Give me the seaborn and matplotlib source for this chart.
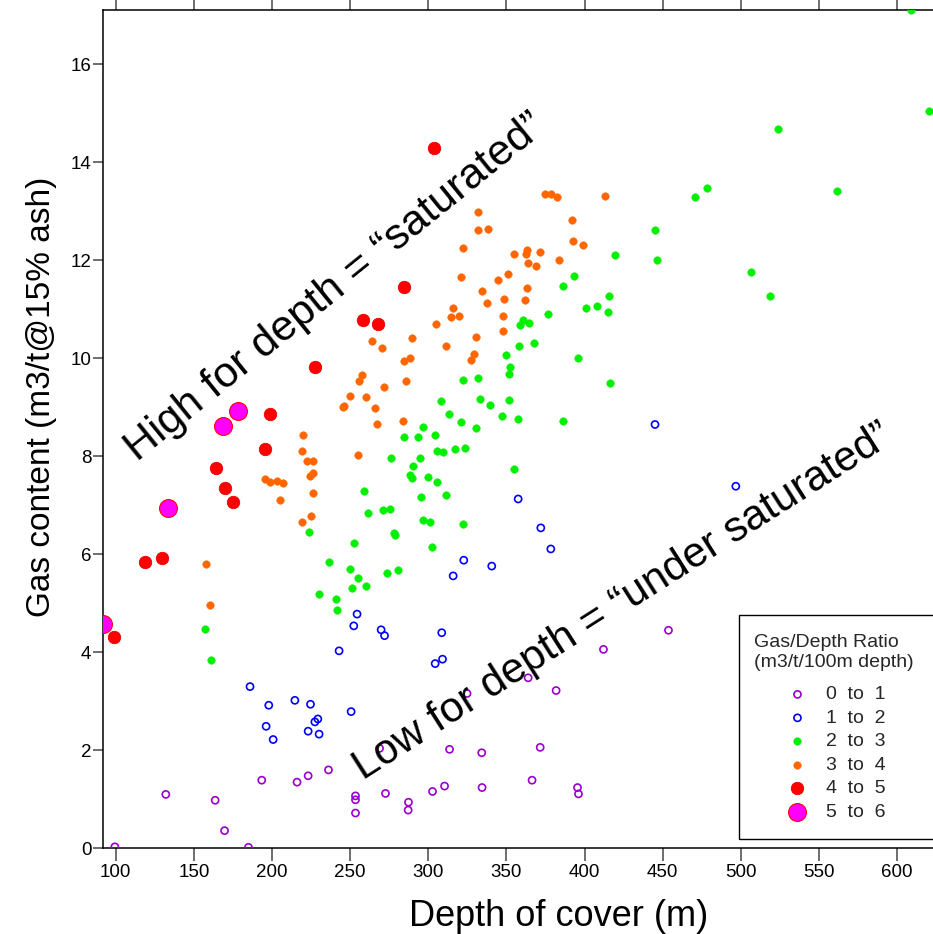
import matplotlib
matplotlib.use("Agg")
import matplotlib.pyplot as plt
import seaborn as sns
import pandas as pd
from matplotlib.patches import Rectangle

# ---------------- data (depth of cover m, gas content m3/t) ----------------
r01_depth = [193.4, 132.0, 163.6, 169.6, 99.4, 184.9, 216.0, 223.1, 236.1, 253.4, 253.4, 253.4,
             272.6, 287.3, 287.1, 302.7, 310.4, 268.8, 313.6, 324.8, 334.2, 371.6, 334.4, 366.4,
             395.5, 396.1, 363.9, 381.8, 412.1, 453.7]
r01_gas = [1.39, 1.10, 0.98, 0.36, 0.03, 0.02, 1.35, 1.48, 1.60, 1.07, 0.99, 0.72,
           1.12, 0.94, 0.78, 1.16, 1.27, 2.04, 2.02, 3.16, 1.95, 2.06, 1.24, 1.39,
           1.24, 1.11, 3.48, 3.22, 4.06, 4.45]

r12_depth = [185.9, 197.9, 196.2, 200.7, 214.6, 224.6, 227.4, 229.3, 223.1, 230.1, 250.6, 242.9,
             252.3, 254.4, 269.8, 272.0, 308.6, 304.4, 309.1, 322.7, 315.9, 340.6, 357.5, 372.0,
             378.4, 445.1, 496.8]
r12_gas = [3.30, 2.92, 2.49, 2.22, 3.02, 2.94, 2.58, 2.64, 2.39, 2.33, 2.79, 4.03,
           4.54, 4.78, 4.46, 4.34, 4.40, 3.77, 3.86, 5.88, 5.56, 5.76, 7.13, 6.54,
           6.11, 8.65, 7.39]

r23_depth = [157.2, 160.8, 258.7, 261.1, 223.5, 252.5, 236.5, 249.6, 254.7, 251.0, 260.4, 229.9,
             240.8, 241.3, 296.5, 308.4, 313.1, 321.2, 330.8, 304.2, 284.3, 293.3, 305.4, 309.5,
             317.2, 323.8, 276.2, 294.8, 290.3, 288.2, 289.5, 299.9, 305.4, 295.2, 311.6, 270.7,
             275.6, 296.5, 301.4, 322.1, 278.1, 278.8, 302.2, 273.4, 280.3, 360.5, 359.0, 364.5,
             358.1, 349.6, 352.6, 351.9, 321.9, 332.1, 367.7, 395.5, 416.0, 339.6, 351.7, 347.0,
             357.3, 386.1, 354.9, 333.1, 608.8, 620.5, 524.1, 478.2, 470.6, 561.4, 444.8, 446.2,
             419.6, 506.6, 518.4, 393.1, 386.3, 415.7, 400.8, 407.7, 415.1, 376.3]
r23_gas = [4.48, 3.84, 7.30, 6.84, 6.46, 6.24, 5.84, 5.71, 5.52, 5.31, 5.35, 5.20,
           5.09, 4.86, 8.60, 9.13, 8.86, 8.71, 8.58, 8.44, 8.40, 8.39, 8.11, 8.09,
           8.16, 8.17, 7.97, 7.97, 7.80, 7.62, 7.56, 7.57, 7.47, 7.18, 7.21, 6.90,
           6.92, 6.70, 6.67, 6.61, 6.43, 6.40, 6.15, 5.61, 5.68, 10.78, 10.69, 10.73,
           10.25, 10.06, 9.82, 9.68, 9.55, 9.59, 10.32, 10.00, 9.49, 9.05, 9.15, 8.83,
           8.77, 8.72, 7.75, 9.17, 17.10, 15.05, 14.68, 13.47, 13.29, 13.42, 12.62, 12.01,
           12.11, 11.77, 11.27, 11.69, 11.48, 11.28, 11.02, 11.07, 10.95, 10.91]

r34_depth = [157.8, 160.0, 195.8, 198.6, 203.4, 206.7, 205.0, 219.9, 218.9, 222.2, 226.5, 226.5,
             224.6, 226.1, 225.2, 218.9, 255.1, 257.3, 255.5, 250.2, 260.2, 246.1, 245.3, 304.8,
             263.8, 270.4, 289.6, 284.5, 288.6, 285.6, 271.7, 265.6, 267.2, 283.9, 331.9, 332.1,
             338.1, 322.5, 354.9, 363.2, 362.8, 364.1, 321.2, 350.9, 344.3, 363.0, 334.4, 348.5,
             362.0, 337.4, 316.1, 314.8, 319.7, 347.7, 347.5, 330.8, 311.4, 329.1, 327.6, 375.0,
             378.4, 382.4, 412.8, 392.0, 392.9, 399.3, 371.2, 369.0, 383.7]
r34_gas = [5.80, 4.97, 7.54, 7.47, 7.50, 7.45, 7.11, 8.43, 8.11, 7.90, 7.90, 7.67,
           7.60, 7.26, 6.79, 6.66, 8.03, 9.66, 9.54, 9.24, 9.21, 9.03, 9.01, 10.71,
           10.36, 10.22, 10.41, 9.95, 10.00, 9.54, 9.41, 8.98, 8.67, 8.73, 12.99, 12.62,
           12.64, 12.25, 12.13, 12.22, 12.12, 11.94, 11.66, 11.72, 11.60, 11.43, 11.37, 11.22,
           11.19, 11.12, 11.03, 10.84, 10.86, 10.86, 10.56, 10.44, 10.25, 10.09, 9.97, 13.36,
           13.36, 13.29, 13.32, 12.82, 12.40, 12.31, 12.18, 11.89, 12.00]

r45_depth = [198.4, 195.4, 164.2, 170.0, 175.1, 118.6, 129.6, 98.7, 227.4, 258.1, 267.7, 284.5, 303.5]
r45_gas = [8.86, 8.14, 7.76, 7.36, 7.06, 5.84, 5.92, 4.32, 9.82, 10.79, 10.71, 11.46, 14.29]

r56_depth = [178.2, 168.5, 133.1, 91.9]
r56_gas = [8.93, 8.62, 6.95, 4.58]

range_labels = ["0  to  1", "1  to  2", "2  to  3", "3  to  4", "4  to  5", "5  to  6"]
x_ticks = [100, 150, 200, 250, 300, 350, 400, 450, 500, 550, 600]
y_ticks = [0, 2, 4, 6, 8, 10, 12, 14, 16]

# ---------------- styling ----------------
sns.set_theme(style="ticks")
plt.rcParams['font.family'] = ['Liberation Sans', 'DejaVu Sans']

styles = [
    dict(open=True, color="#9900CC", s=26, lw=1.2),
    dict(open=True, color="#0000FF", s=26, lw=1.2),
    dict(open=False, color="#00F000", s=30, edge="#00F000", lw=0.3),
    dict(open=False, color="#FF6600", s=30, edge="#FF6600", lw=0.3),
    dict(open=False, color="#FF0000", s=80, edge="#E80000", lw=0.6),
    dict(open=False, color="#FF00FF", s=165, edge="#FF0000", lw=0.8),
]
series = [(r01_depth, r01_gas), (r12_depth, r12_gas), (r23_depth, r23_gas),
          (r34_depth, r34_gas), (r45_depth, r45_gas), (r56_depth, r56_gas)]

W, H = 933, 934
fig = plt.figure(figsize=(W / 100, H / 100), dpi=100)
fig.patch.set_facecolor("white")
ax = fig.add_axes([103.3 / W, (H - 848.3) / H, 829.7 / W, 838.3 / H])
ax.set_facecolor("white")

for lab, (xs, ys), st in zip(range_labels, series, styles):
    d = pd.DataFrame({"depth": xs, "gas": ys})
    if st["open"]:
        sns.scatterplot(data=d, x="depth", y="gas", ax=ax, s=st["s"], facecolor="none",
                        edgecolor=st["color"], linewidth=st["lw"], label=lab, zorder=3)
    else:
        sns.scatterplot(data=d, x="depth", y="gas", ax=ax, s=st["s"], color=st["color"],
                        edgecolor=st["edge"], linewidth=st["lw"], label=lab, zorder=3)

ax.set_xlim(92, 623)
ax.set_ylim(0, 17.11)
ax.set_xticks(x_ticks)
ax.set_yticks(y_ticks)
ax.set_xticklabels([str(v) for v in x_ticks])
ax.set_yticklabels([str(v) for v in y_ticks])

for s in ["left", "bottom", "top"]:
    ax.spines[s].set_visible(True)
    ax.spines[s].set_color("black")
    ax.spines[s].set_linewidth(1.1)
ax.spines["right"].set_visible(False)

ax.tick_params(axis="x", which="major", direction="out", length=9, width=1.2, color="#555555",
               bottom=True, top=True, labelbottom=True, labeltop=False, labelsize=13.5,
               pad=2, labelcolor="black")
ax.tick_params(axis="y", which="major", direction="out", length=7, width=1.2, color="#555555",
               left=True, right=False, labelsize=13.5, pad=1.5, labelcolor="black")

ax.set_xlabel("Depth of cover (m)", fontsize=26, color="black")
ax.set_ylabel("Gas content (m3/t@15% ash)", fontsize=24, color="black")
ax.xaxis.set_label_coords(0.549, -0.061)
ax.yaxis.set_label_coords(-0.056, 0.538)

ax.text(240.8, 11.45, "High for depth = \u201csaturated\u201d", rotation=39,
        rotation_mode="anchor", ha="center", va="center", fontsize=31, color="black", zorder=5)
ax.text(424.4, 5.02, "Low for depth = \u201cunder saturated\u201d", rotation=32.5,
        rotation_mode="anchor", ha="center", va="center", fontsize=30.5, color="black", zorder=5)

leg = ax.legend(loc="upper left", bbox_to_anchor=(754 / W, 1 - 634 / H),
                bbox_transform=fig.transFigure, frameon=False,
                title="Gas/Depth Ratio\n(m3/t/100m depth)", fontsize=14, title_fontsize=14,
                labelspacing=0.3, handlelength=1.56, handletextpad=0.67, borderpad=0,
                borderaxespad=0, scatterpoints=1)
leg.get_title().set_multialignment("left")
leg._legend_box.sep = 11
leg.set_zorder(6)

fig.add_artist(Rectangle((739 / W, 1 - 839 / H), (980 - 739) / W, (839 - 615) / H,
                         transform=fig.transFigure, fill=False, edgecolor="black",
                         linewidth=1.0, clip_on=False, zorder=7))

fig.savefig("out.png", dpi=100, facecolor="white")
